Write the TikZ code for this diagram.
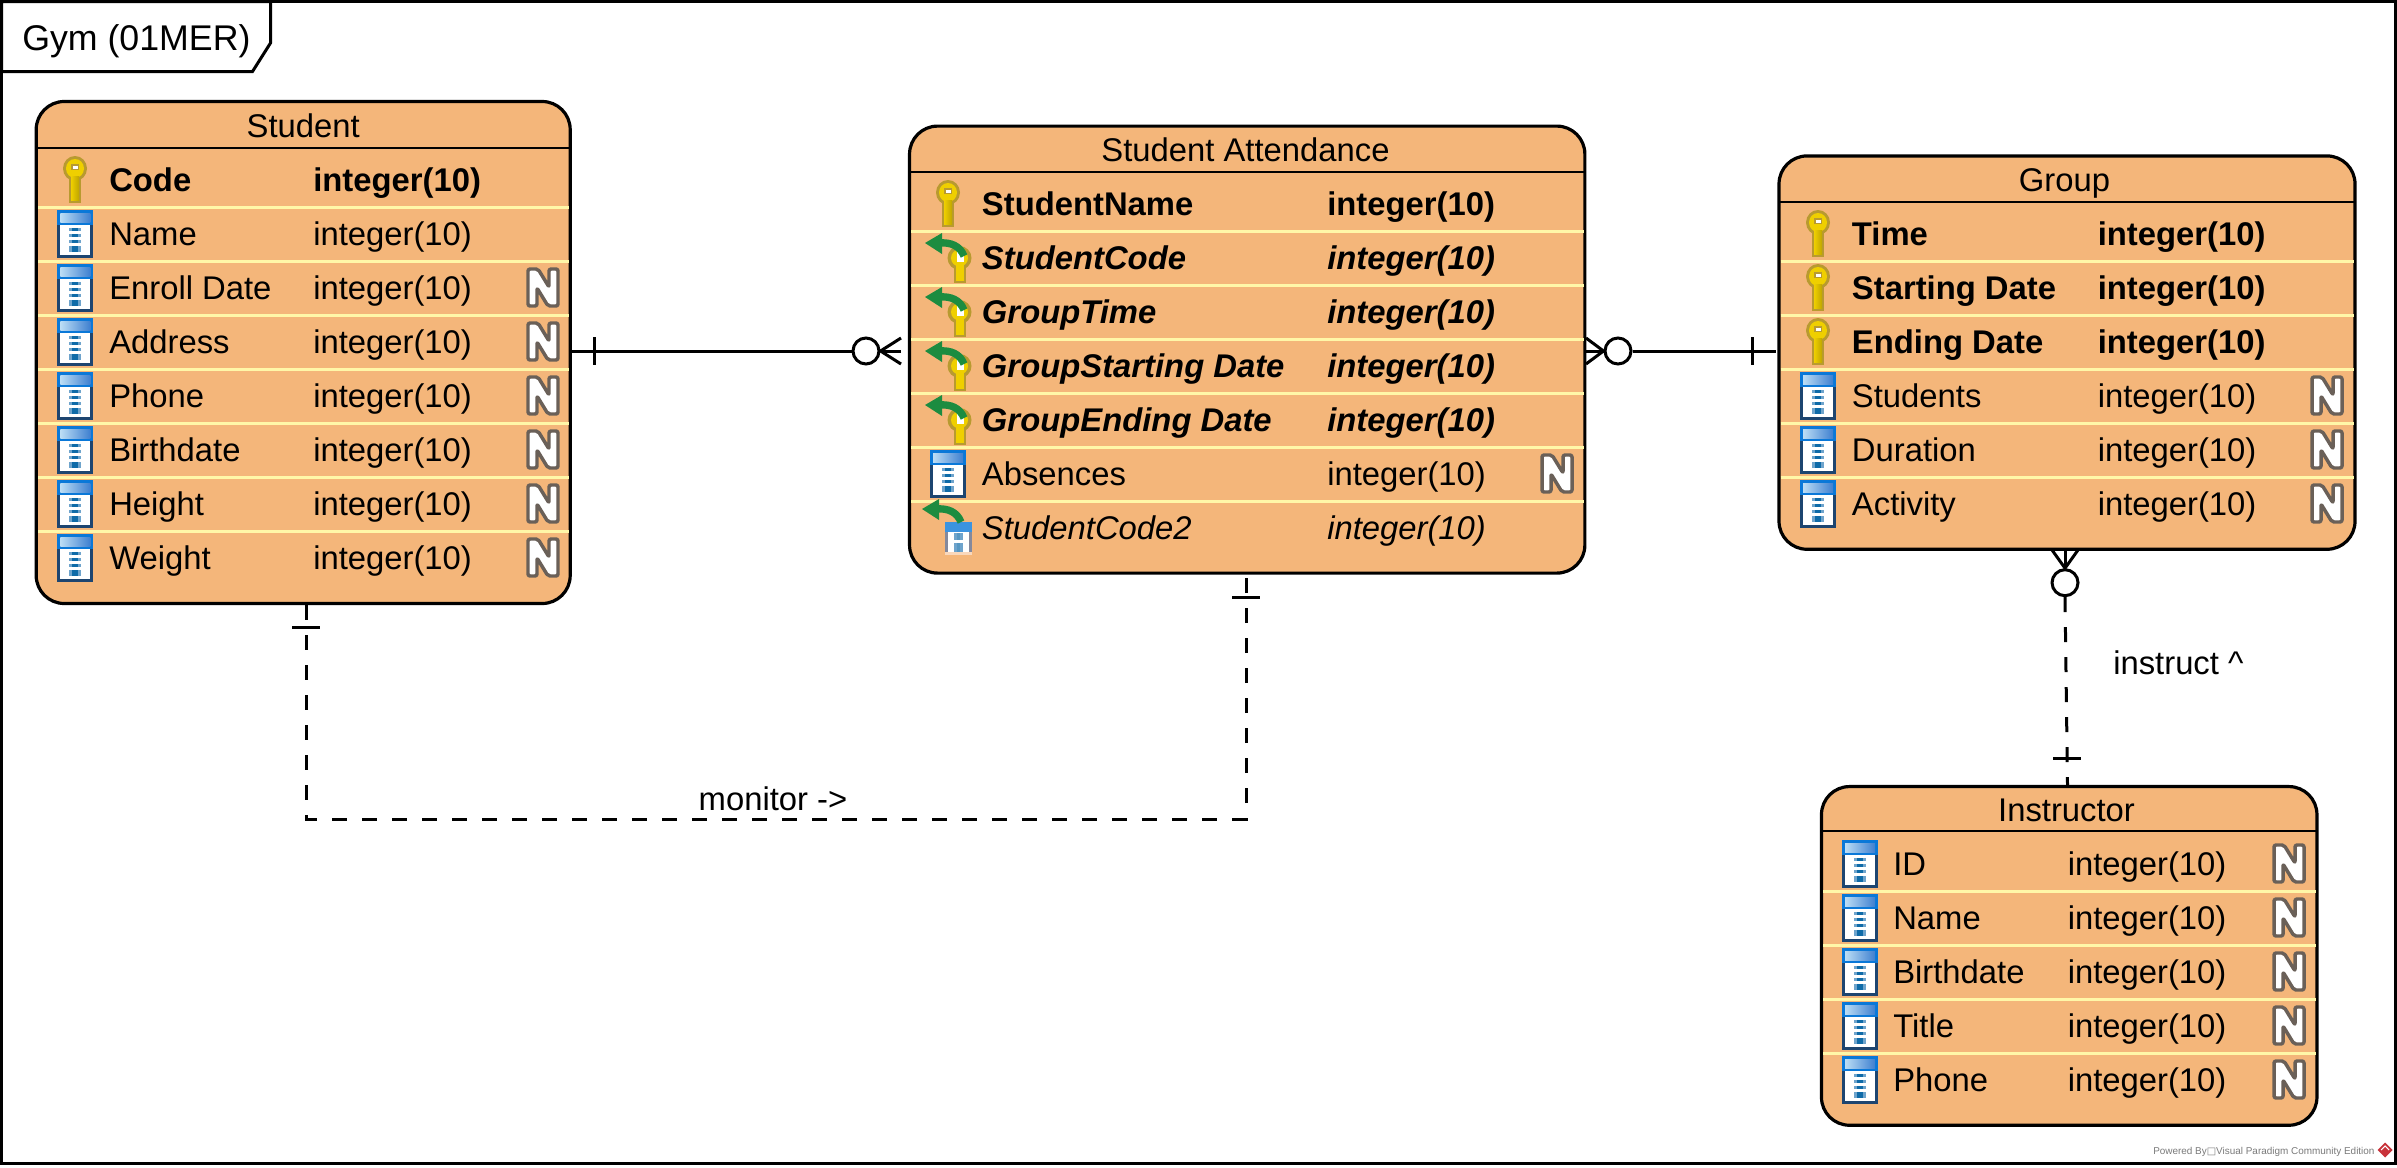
\documentclass[tikz,border=0pt]{standalone}
\usepackage{fontspec}
\setmainfont{Liberation Sans}
\newfontfamily\symfont{DejaVu Sans}
\usetikzlibrary{calc}
\definecolor{boxfill}{HTML}{F4B67A}
\definecolor{rowsep}{HTML}{FFF7A8}
\definecolor{icodark}{HTML}{1D4570}
\definecolor{icoblue}{HTML}{0A78D8}
\definecolor{icolight}{HTML}{BBDDF5}
\definecolor{icomid}{HTML}{3F80D0}
\definecolor{barside}{HTML}{6FA4CC}
\definecolor{barcore}{HTML}{0F6BA8}
\definecolor{keyedge}{HTML}{B89A30}
\definecolor{keyfill}{HTML}{EFCF00}
\definecolor{arrowgreen}{HTML}{1C8C40}
\definecolor{markgrey}{HTML}{6A6058}
\definecolor{wmgrey}{HTML}{7A7A7A}
\definecolor{wmred}{HTML}{C8323A}
\definecolor{fkedge}{HTML}{84899C}
\definecolor{fkfoot}{HTML}{F9D8BC}
\tikzset{
  entity/.style={draw=black,fill=boxfill,line width=2.4pt,rounded corners=21pt,inner sep=0pt},
  lbl/.style={anchor=base west,inner sep=0pt,font=\fontsize{24.6pt}{28pt}\selectfont,text=black},
  ttl/.style={anchor=base,inner sep=0pt,font=\fontsize{24.6pt}{28pt}\selectfont,text=black},
  rel/.style={line width=2.25pt,draw=black},
  reldash/.style={rel,dash pattern=on 11.25pt off 11.25pt},
  seprow/.style={draw=rowsep,line width=2.25pt},
  septitle/.style={draw=black,line width=1.5pt},
  ringnode/.style={circle,draw=black,fill=white,line width=2.25pt,minimum size=19.5pt,inner sep=0pt}
}
\newcount\tc
\newcommand{\ColIcon}[2]{%
  \begin{scope}[shift={(#1,#2)}]
    \fill[icodark] (0,14) rectangle (36,48);
    \fill[white] (3,15) rectangle (33,45);
    \fill[icoblue] (0,0) rectangle (36,15);
    \shade[left color=icolight,right color=icomid] (3,3) rectangle (33,12);
    \foreach \d in {18,24,30}{
      \fill[barside] (12,\d) rectangle (24,\d+3);
      \fill[barcore] (15,\d) rectangle (21,\d+3);
    }
    \fill[barside] (12,36) rectangle (24,42);
    \fill[barcore] (15,36) rectangle (21,42);
  \end{scope}}
\newcommand{\KeyIcon}[2]{%
  \begin{scope}[shift={(#1,#2)}]
    \fill[keyedge] (6,18) rectangle (18,47);
    \fill[keyedge] (12,12.5) ellipse[x radius=12,y radius=12.5];
    \fill[keyfill] (12,12.5) ellipse[x radius=9,y radius=9.5];
    \shade[left color=keyfill,right color=keyfill!80!black] (8,20) rectangle (16,44);
    \fill[keyedge] (8,8) rectangle (16,14);
    \fill[white] (9.5,9.5) rectangle (14.5,12.5);
  \end{scope}}
\newcommand{\GreenArrow}[2]{%
  \begin{scope}[shift={(#1,#2)}]
    \draw[arrowgreen,line width=5.5pt] (14,9) .. controls (26,8) and (35,12) .. (39,22);
    \fill[arrowgreen] (0,9) -- (17,-1) -- (17,20) -- cycle;
  \end{scope}}
\newcommand{\FkKey}[2]{%
  \begin{scope}[shift={(#1,#2)}]
    \fill[keyedge] (6,30) rectangle (18,49);
    \fill[keyedge] (11.5,24) circle[radius=12];
    \fill[keyfill] (11.5,24) circle[radius=8.5];
    \fill[keyfill] (8,30) rectangle (16,47);
    \fill[white] (9,18) rectangle (16,28);
    \GreenArrow{-23}{0}
  \end{scope}}
\newcommand{\FkCol}[2]{%
  \begin{scope}[shift={(#1,#2)}]
    \fill[fkedge] (0,22) rectangle (27,52);
    \fill[white] (3,32) rectangle (24,52);
    \fill[fkfoot] (0,52) rectangle (27,55);
    \fill[icoblue!80!white] (0,22) rectangle (27,32);
    \fill[barside] (9,33) rectangle (18,40);
    \fill[barside] (9,43) rectangle (18,52);
    \fill[barcore!70!white] (12,33) rectangle (15,40);
    \fill[barcore!70!white] (12,43) rectangle (15,52);
    \GreenArrow{-23}{0}
  \end{scope}}
\newcommand{\NMark}[2]{%
  \begin{scope}[shift={(#1,#2)}]
    \path[draw=markgrey,fill=white,line width=2.6pt,line join=round,rounded corners=1.5pt]
      (3,2) -- (13,2) -- (24,20) -- (24,2) -- (33,2) -- (33,39) -- (23,39) -- (12,21) -- (12,39) -- (3,39) -- cycle;
  \end{scope}}
% #1 icon commands, #2 row top, #3 unused icon x, #4 text x, #5 type x, #6 font, #7 name, #8 type
\newcommand{\AttrRow}[8]{%
  #1
  \global\advance\tc by 1
  \node[lbl] (na\the\tc) at (#4,#2+38) {#6#7};
  \node[lbl] (ty\the\tc) at (#5,#2+38) {#6#8};}
\begin{document}
\begin{tikzpicture}[x=0.75pt,y=-0.75pt]
\useasboundingbox (0,0) rectangle (2397,1167);
\fill[white] (0,0) rectangle (2397,1167);
% frame
\draw[black,line width=2.25pt] (1.5,1.5) rectangle (2395.5,1163);
\path[draw=black,fill=white,line width=2.25pt] (1.5,1.5) -- (270.5,1.5) -- (270.5,43) -- (252.5,71.5) -- (1.5,71.5) -- cycle;
\node[anchor=base west,inner sep=0pt,font=\fontsize{26.8pt}{30pt}\selectfont] (frametitle) at (22,50) {Gym (01MER)};

% entities
\node[entity,minimum width=400.5pt,minimum height=376.5pt] (student) at (303.2,352.5) {};
\node[entity,minimum width=506.5pt,minimum height=335.25pt] (attendance) at (1247.2,349.6) {};
\node[entity,minimum width=432pt,minimum height=295pt] (group) at (2067,352.6) {};
\node[entity,minimum width=371.6pt,minimum height=254pt] (instructor) at (2069.2,955.9) {};

% titles
\node[ttl] (tstudent) at (303.2,137.5) {Student};
\node[ttl] (tattendance) at (1245.5,161.5) {Student Attendance};
\node[ttl] (tgroup) at (2064.5,191.5) {Group};
\node[ttl] (tinstructor) at (2066.5,821.7) {Instructor};
\draw[septitle] (36.4,148) -- (570,148);
\draw[septitle] (909.5,172) -- (1585,172);
\draw[septitle] (1779,201.5) -- (2355,201.5);
\draw[septitle] (1821.5,831) -- (2317,831);

% row separators
\foreach \k in {0,...,6} \draw[seprow] (38,207.5+54*\k) -- (568.5,207.5+54*\k);
\foreach \k in {0,...,5} \draw[seprow] (911,231.7+54*\k) -- (1583.5,231.7+54*\k);
\foreach \k in {0,...,4} \draw[seprow] (1780.5,261+54*\k) -- (2353.5,261+54*\k);
\foreach \k in {0,...,3} \draw[seprow] (1823,891+54*\k) -- (2315.5,891+54*\k);

% Student rows
\AttrRow{\KeyIcon{63}{156}}{153.5}{57.4}{109}{313}{\bfseries}{Code}{integer(10)}
\AttrRow{\ColIcon{57.4}{210}}{207.5}{57.4}{109}{313}{}{Name}{integer(10)}
\AttrRow{\ColIcon{57.4}{264}\NMark{525}{267}}{261.5}{57.4}{109}{313}{}{Enroll Date}{integer(10)}
\AttrRow{\ColIcon{57.4}{318}\NMark{525}{321}}{315.5}{57.4}{109}{313}{}{Address}{integer(10)}
\AttrRow{\ColIcon{57.4}{372}\NMark{525}{375}}{369.5}{57.4}{109}{313}{}{Phone}{integer(10)}
\AttrRow{\ColIcon{57.4}{426}\NMark{525}{429}}{423.5}{57.4}{109}{313}{}{Birthdate}{integer(10)}
\AttrRow{\ColIcon{57.4}{480}\NMark{525}{483}}{477.5}{57.4}{109}{313}{}{Height}{integer(10)}
\AttrRow{\ColIcon{57.4}{534}\NMark{525}{537}}{531.5}{57.4}{109}{313}{}{Weight}{integer(10)}

% Attendance rows
\AttrRow{\KeyIcon{936}{180}}{177.7}{930}{981.7}{1327}{\bfseries}{StudentName}{integer(10)}
\AttrRow{\FkKey{948}{234}}{231.7}{930}{981.7}{1327}{\bfseries\itshape}{StudentCode}{integer(10)}
\AttrRow{\FkKey{948}{288}}{285.7}{930}{981.7}{1327}{\bfseries\itshape}{GroupTime}{integer(10)}
\AttrRow{\FkKey{948}{342}}{339.7}{930}{981.7}{1327}{\bfseries\itshape}{GroupStarting Date}{integer(10)}
\AttrRow{\FkKey{948}{396}}{393.7}{930}{981.7}{1327}{\bfseries\itshape}{GroupEnding Date}{integer(10)}
\AttrRow{\ColIcon{930}{450}\NMark{1539}{453}}{447.7}{930}{981.7}{1327}{}{Absences}{integer(10)}
\AttrRow{\FkCol{945}{500}}{501.7}{930}{981.7}{1327}{\itshape}{StudentCode2}{integer(10)}

% Group rows
\AttrRow{\KeyIcon{1806}{210}}{207}{1800}{1851.7}{2097.5}{\bfseries}{Time}{integer(10)}
\AttrRow{\KeyIcon{1806}{264}}{261}{1800}{1851.7}{2097.5}{\bfseries}{Starting Date}{integer(10)}
\AttrRow{\KeyIcon{1806}{318}}{315}{1800}{1851.7}{2097.5}{\bfseries}{Ending Date}{integer(10)}
\AttrRow{\ColIcon{1800}{372}\NMark{2309}{375}}{369}{1800}{1851.7}{2097.5}{}{Students}{integer(10)}
\AttrRow{\ColIcon{1800}{426}\NMark{2309}{429}}{423}{1800}{1851.7}{2097.5}{}{Duration}{integer(10)}
\AttrRow{\ColIcon{1800}{480}\NMark{2309}{483}}{477}{1800}{1851.7}{2097.5}{}{Activity}{integer(10)}

% Instructor rows
\AttrRow{\ColIcon{1842}{840}\NMark{2271}{843}}{837}{1842}{1893}{2067.5}{}{ID}{integer(10)}
\AttrRow{\ColIcon{1842}{894}\NMark{2271}{897}}{891}{1842}{1893}{2067.5}{}{Name}{integer(10)}
\AttrRow{\ColIcon{1842}{948}\NMark{2271}{951}}{945}{1842}{1893}{2067.5}{}{Birthdate}{integer(10)}
\AttrRow{\ColIcon{1842}{1002}\NMark{2271}{1005}}{999}{1842}{1893}{2067.5}{}{Title}{integer(10)}
\AttrRow{\ColIcon{1842}{1056}\NMark{2271}{1059}}{1053}{1842}{1893}{2067.5}{}{Phone}{integer(10)}

% relationship Student -- Attendance
\node[ringnode] (r1) at (866,351) {};
\coordinate (r1s) at (572,351);
\coordinate (r1e) at (901,351);
\draw[rel] (r1s) -- (r1);
\draw[rel] (594,337) -- (594,365);
\draw[rel] (r1e) -- (r1.east);
\draw[rel] (901,338) -- (r1.east) -- (901,364);

% relationship Attendance -- Group
\node[ringnode] (r2) at (1618,351) {};
\coordinate (r2s) at (1586,351);
\coordinate (r2e) at (1776,351);
\draw[rel] (r2s) -- (r2.west);
\draw[rel] (1586,338) -- (r2.west) -- (1586,364);
\draw[rel] (r2) -- (r2e);
\draw[rel] (1752,337) -- (1752,365);

% relationship Group -- Instructor
\node[ringnode] (r3) at (2065,582.7) {};
\coordinate (r3s) at (2065,551);
\coordinate (r3e) at (2067.5,785);
\draw[rel] (r3s) -- (r3.north);
\draw[rel] (2052,550) -- (r3.north) -- (2078,550);
\draw[reldash] (r3.south) -- (r3e);
\draw[rel] (2053,758) -- (2081,758);
\node[lbl] (linstruct) at (2113,674) {instruct \char`\^};

% relationship Student -- Attendance (monitor)
\coordinate (m1) at (306,605);
\coordinate (m2) at (306,819);
\coordinate (m3) at (1246,819);
\coordinate (m4) at (1246,575);
\draw[reldash] (m1) -- (m2) -- (m3) -- (m4);
\draw[rel] (292,627) -- (320,627);
\draw[rel] (1232,597.5) -- (1260,597.5);
\node[ttl] (lmonitor) at (773,810) {monitor ->};

% watermark
\node[anchor=base west,inner sep=0pt,text=wmgrey,font=\fontsize{7.45pt}{9pt}\selectfont] (wm) at (2153,1154) {Powered By{\symfont□}Visual Paradigm Community Edition};
\fill[wmred] (2385,1142.5) -- (2392.5,1150) -- (2385,1157.5) -- (2377.5,1150) -- cycle;
\draw[white,line width=0.8pt] (2381,1150) -- (2385,1146) -- (2389,1150);
\end{tikzpicture}
\end{document}
